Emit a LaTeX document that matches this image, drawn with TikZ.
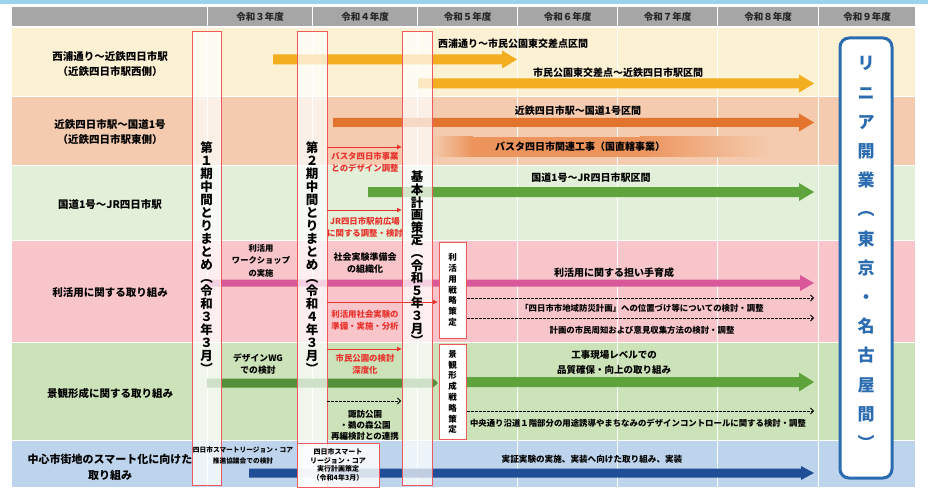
\documentclass[tikz,border=0pt]{standalone}
\usepackage{fontspec}
\setmainfont{Noto Sans CJK JP}
\usetikzlibrary{arrows.meta}
\definecolor{topblue}{HTML}{9DD2EC}
\definecolor{hdr}{HTML}{A6A6A6}
\definecolor{rowA}{HTML}{FDF1D4}
\definecolor{rowB}{HTML}{F4CBAE}
\definecolor{rowC}{HTML}{E2F0D9}
\definecolor{rowD}{HTML}{F8C5CB}
\definecolor{rowE}{HTML}{CCE2B8}
\definecolor{rowF}{HTML}{BED4EC}
\definecolor{yel}{HTML}{F2AE1E}
\definecolor{org}{HTML}{E2742D}
\definecolor{basta}{HTML}{EC945C}
\definecolor{grn}{HTML}{5FA33C}
\definecolor{grn2}{HTML}{54903A}
\definecolor{pnk}{HTML}{D9589A}
\definecolor{blu}{HTML}{1F4E96}
\definecolor{redc}{HTML}{E8322C}
\definecolor{boxred}{HTML}{EE5A5C}
\definecolor{linblue}{HTML}{2B6CB0}
\newcommand\tlarrow[7]{\fill[#1] (#2,{#4-#5/2}) -- ({#3-#7},{#4-#5/2}) -- ({#3-#7},{#4-#6/2}) -- (#3,#4) -- ({#3-#7},{#4+#6/2}) -- ({#3-#7},{#4+#5/2}) -- (#2,{#4+#5/2}) -- cycle;}
\begin{document}
\begin{tikzpicture}[x=1pt,y=-1pt,
  hdrtxt/.style={font=\bfseries\fontsize{9.5}{11}\selectfont, text=black!85, inner sep=0},
  rowlbl/.style={font=\bfseries\fontsize{10.5}{15}\selectfont, align=center, inner sep=0},
  barlbl/.style={font=\bfseries\fontsize{10}{12}\selectfont, inner sep=0},
  smalllbl/.style={font=\bfseries\fontsize{8.4}{11.5}\selectfont, inner sep=0, align=center},
  redlbl/.style={smalllbl, text=redc},
  dashlbl/.style={font=\bfseries\fontsize{8.4}{10}\selectfont, inner sep=0},
  vtxt/.style={font=\bfseries\fontsize{12.5}{13}\selectfont, align=center, inner sep=0},
  vsmall/.style={font=\bfseries\fontsize{8.5}{10.8}\selectfont, align=center, inner sep=0},
  milestone/.style={draw=boxred, line width=0.9pt, fill=white, fill opacity=0.72},
  solidbox/.style={draw=boxred, line width=0.9pt, fill=white},
  redarr/.style={draw=redc, line width=0.9pt, -{Latex[length=5pt,width=5pt]}},
  dasharr/.style={draw=black, line width=0.8pt, dash pattern=on 2.5pt off 1.5pt, -{Straight Barb[length=3pt,width=6pt]}},
  colsep/.style={draw=white, line width=1.4pt}
]
\useasboundingbox (0,0) rectangle (928,497);
\fill[white] (0,0) rectangle (928,497);
\fill[topblue] (0,0) rectangle (928,4.5);
% header
\fill[hdr] (12,7) rectangle (915,26);
% rows
\fill[rowA] (12,28) rectangle (915,96.5);
\fill[rowB] (12,96.5) rectangle (915,165.5);
\fill[rowC] (12,165.5) rectangle (915,240.5);
\fill[rowD] (12,240.5) rectangle (915,342.5);
\fill[rowE] (12,342.5) rectangle (915,440.5);
\fill[rowF] (12,440.5) rectangle (915,487);
\foreach \yy in {96.5,165.5,240.5,342.5,440.5} \draw[colsep] (12,\yy) -- (915,\yy);
\foreach \xx in {207.5,312.5,417.5,517.5,617.5,717.5,818.5} \draw[colsep] (\xx,7) -- (\xx,487);
% header texts
\node[hdrtxt] (h3) at (260,16.5) {令和３年度};
\node[hdrtxt] (h4) at (365,16.5) {令和４年度};
\node[hdrtxt] (h5) at (467.5,16.5) {令和５年度};
\node[hdrtxt] (h6) at (567.5,16.5) {令和６年度};
\node[hdrtxt] (h7) at (667.5,16.5) {令和７年度};
\node[hdrtxt] (h8) at (768,16.5) {令和８年度};
\node[hdrtxt] (h9) at (867,16.5) {令和９年度};
% bars
\tlarrow{yel}{273}{517}{59.5}{10}{18}{15}
\tlarrow{yel}{418}{814}{83.5}{10}{18}{15}
\tlarrow{org}{333}{814}{122.5}{9}{18}{15}
\shade[left color=rowB, right color=basta] (432,137) rectangle (473,157);
\fill[basta] (472,137) rectangle (641,157);
\shade[left color=basta, right color=rowB] (640,137) rectangle (770,157);
\tlarrow{grn}{368}{814}{192}{10}{18}{15}
\tlarrow{pnk}{207}{814}{283}{7}{16}{14}
\tlarrow{grn2}{207}{438}{383}{9}{11}{6}
\tlarrow{grn}{466}{814}{382}{10}{19}{15}
\tlarrow{blu}{249}{814}{473}{9}{14}{13}
% milestone boxes
\path[milestone] (192,31) rectangle (221,485);
\path[milestone] (297,31) rectangle (327,487);
\path[milestone] (402,31) rectangle (432,485);
\path[draw=boxred, line width=0.9pt, fill=white, fill opacity=0.82] (297,443) rectangle (379,487);
\path[solidbox] (439,242) rectangle (466,338);
\path[solidbox] (439,344) rectangle (466,439);
% red / dashed arrows between box 2 and box 3
\coordinate (ra1s) at (327,147); \coordinate (ra1e) at (402,147);
\coordinate (ra2s) at (327,210); \coordinate (ra2e) at (402,210);
\coordinate (ra3s) at (327,302); \coordinate (ra3e) at (438,302);
\coordinate (ra4s) at (327,349); \coordinate (ra4e) at (402,349);
\coordinate (da0s) at (327,401); \coordinate (da0e) at (401,401);
\draw[redarr] (ra1s) -- (ra1e);
\draw[redarr] (ra2s) -- (ra2e);
\draw[redarr] (ra3s) -- (ra3e);
\draw[redarr] (ra4s) -- (ra4e);
\draw[dasharr] (da0s) -- (da0e);
\coordinate (da1s) at (467,298); \coordinate (da1e) at (814,298);
\coordinate (da2s) at (467,318); \coordinate (da2e) at (814,318);
\coordinate (da3s) at (467,411); \coordinate (da3e) at (814,411);
\draw[dasharr] (da1s) -- (da1e);
\draw[dasharr] (da2s) -- (da2e);
\draw[dasharr] (da3s) -- (da3e);
% row labels
\node[rowlbl] (r1) at (110,64.5) {西浦通り～近鉄四日市駅\\（近鉄四日市駅西側）};
\node[rowlbl] (r2) at (110,132.5) {近鉄四日市駅～国道1号\\（近鉄四日市駅東側）};
\node[rowlbl] (r3) at (110,205) {国道1号～JR四日市駅};
\node[rowlbl] (r4) at (110,293) {利活用に関する取り組み};
\node[rowlbl] (r5) at (110,393) {景観形成に関する取り組み};
\node[rowlbl, font=\bfseries\fontsize{11}{16}\selectfont] (r6) at (110,467) {中心市街地のスマート化に向けた\\取り組み};
% bar labels
\node[barlbl, anchor=west] (la) at (438,44) {西浦通り～市民公園東交差点区間};
\node[barlbl] (lb) at (618,73) {市民公園東交差点～近鉄四日市駅区間};
\node[barlbl] (lc) at (578,111) {近鉄四日市駅～国道1号区間};
\node[barlbl] (ld) at (580,147) {バスタ四日市関連工事（国直轄事業）};
\node[barlbl] (le) at (591,178) {国道1号～JR四日市駅区間};
\node[barlbl] (lf) at (614,273) {利活用に関する担い手育成};
\node[barlbl, align=center, font=\bfseries\fontsize{9.5}{15}\selectfont] (lg) at (614,362.5) {工事現場レベルでの\\品質確保・向上の取り組み};
\node[barlbl, font=\bfseries\fontsize{8.6}{10}\selectfont] (lh) at (592,459) {実証実験の実施、実装へ向けた取り組み、実装};
\node[dashlbl] (ld1) at (642,308) {「四日市市地域防災計画」への位置づけ等についての検討・調整};
\node[dashlbl] (ld2) at (642,330) {計画の市民周知および意見収集方法の検討・調整};
\node[dashlbl] (ld3) at (638,423) {中央通り沿道１階部分の用途誘導やまちなみのデザインコントロールに関する検討・調整};
% small labels
\node[redlbl] (t1) at (365,162.5) {バスタ四日市事業\\とのデザイン調整};
\node[redlbl] (t2) at (365,227.5) {JR四日市駅前広場\\に関する調整・検討};
\node[redlbl] (t3) at (365,320.5) {利活用社会実験の\\準備・実施・分析};
\node[redlbl] (t4) at (365,364.5) {市民公園の検討\\深度化};
\node[smalllbl, font=\bfseries\fontsize{9}{12}\selectfont] (t5) at (365,263) {社会実験準備会\\の組織化};
\node[smalllbl, font=\bfseries\fontsize{8.5}{11}\selectfont] (t6) at (365,425) {諏訪公園\\・鵜の森公園\\再編検討との連携};
\node[smalllbl, font=\bfseries\fontsize{8.3}{12.5}\selectfont] (t7) at (261,260.5) {利活用\\ワークショップ\\の実施};
\node[smalllbl, font=\bfseries\fontsize{8.8}{12}\selectfont] (t8) at (258,364) {デザインWG\\での検討};
\node[smalllbl, font=\bfseries\fontsize{6.7}{11}\selectfont] (t9) at (243,455.5) {四日市スマートリージョン・コア\\推進協議会での検討};
\node[smalllbl, font=\bfseries\fontsize{7}{8.7}\selectfont] (t10) at (338,465) {四日市スマート\\リージョン・コア\\実行計画策定\\（令和4年3月）};
% vertical texts
\node[vtxt] (v1) at (206.5,257.5) {第\\１\\期\\中\\間\\と\\り\\ま\\と\\め\\︵\\令\\和\\３\\年\\３\\月\\︶};
\node[vtxt] (v2) at (312,257.5) {第\\２\\期\\中\\間\\と\\り\\ま\\と\\め\\︵\\令\\和\\４\\年\\３\\月\\︶};
\node[vtxt, font=\bfseries\fontsize{12.5}{12.6}\selectfont] (v3) at (417,258.5) {基\\本\\計\\画\\策\\定\\︵\\令\\和\\５\\年\\３\\月\\︶};
\node[vsmall] (v4) at (452.5,290) {利\\活\\用\\戦\\略\\策\\定};
\node[vsmall] (v5) at (452.5,392) {景\\観\\形\\成\\戦\\略\\策\\定};
% linear box
\draw[draw=linblue, line width=3pt, fill=white, rounded corners=9pt] (840,38) rectangle (892,478);
\node[font=\bfseries\fontsize{17}{29.2}\selectfont, text=linblue, align=center, inner sep=0] (lin) at (866,253) {リ\\ニ\\ア\\開\\業\\︵\\東\\京\\・\\名\\古\\屋\\間\\︶};
\end{tikzpicture}
\end{document}
